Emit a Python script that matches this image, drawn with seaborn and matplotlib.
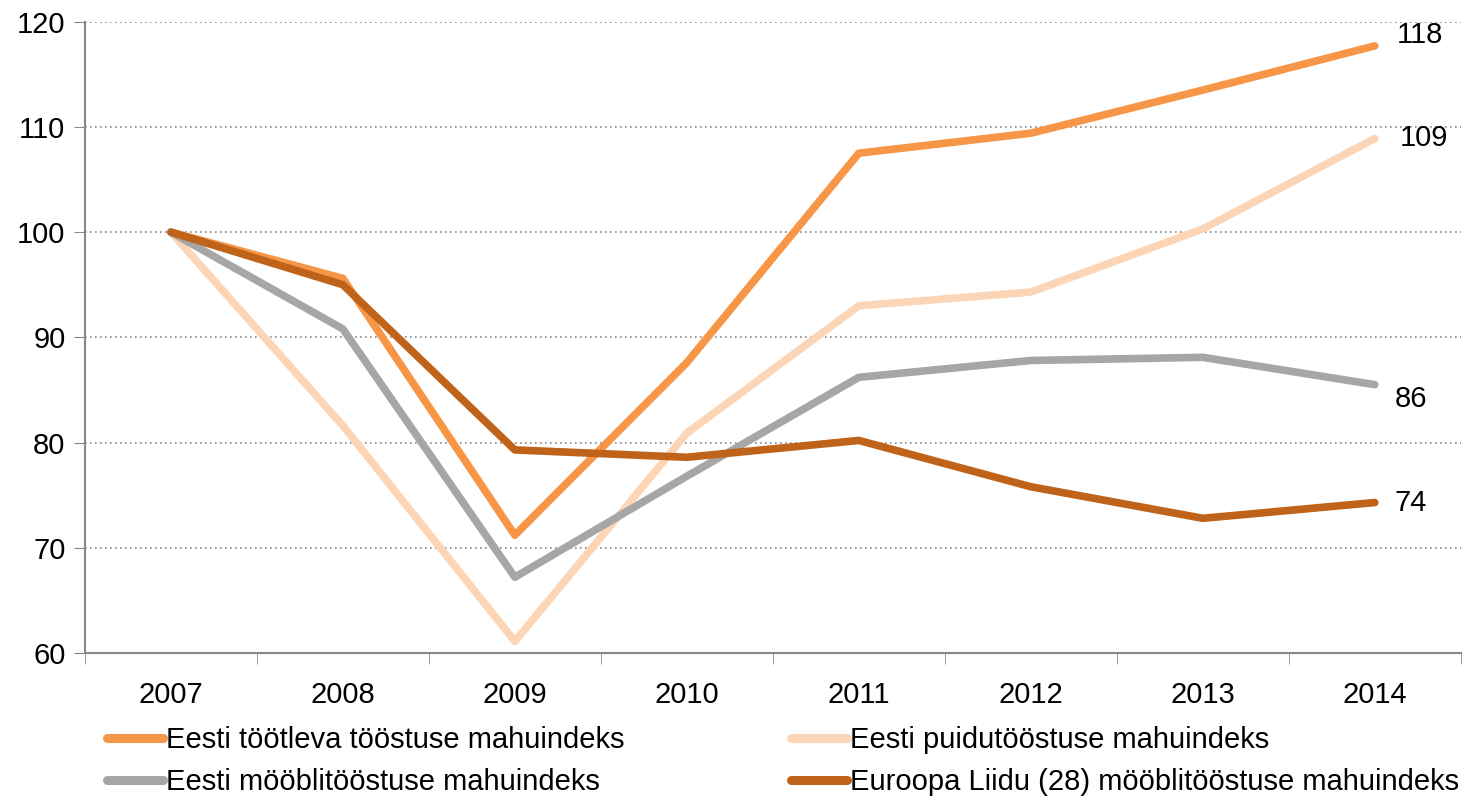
import pandas as pd
import seaborn as sns
import matplotlib.pyplot as plt
from matplotlib.ticker import FixedLocator

years = ["2007", "2008", "2009", "2010", "2011", "2012", "2013", "2014"]
tootlev = [100, 95.6, 71.2, 87.6, 107.5, 109.4, 113.5, 117.7]
puidu = [100, 81.6, 61.1, 80.9, 93.0, 94.3, 100.3, 108.9]
moobli = [100, 90.8, 67.2, 76.8, 86.2, 87.8, 88.1, 85.5]
eu_moobli = [100, 95.0, 79.3, 78.6, 80.2, 75.8, 72.8, 74.3]
end_labels = ["118", "109", "86", "74"]

series_names = [
    "Eesti töötleva tööstuse mahuindeks",
    "Eesti puidutööstuse mahuindeks",
    "Eesti mööblitööstuse mahuindeks",
    "Euroopa Liidu (28) mööblitööstuse mahuindeks",
]
colors = ["#F79646", "#FBD5B5", "#A6A6A6", "#C0631A"]


def main():
    rows = []
    for name, vals in zip(series_names, [tootlev, puidu, moobli, eu_moobli]):
        for i, (yr, v) in enumerate(zip(years, vals)):
            rows.append({"pos": i, "year": yr, "value": v, "series": name})
    df = pd.DataFrame(rows)

    sns.set_style("white")
    plt.rcParams["font.family"] = ["Liberation Sans", "DejaVu Sans"]
    plt.rcParams["text.color"] = "black"

    fig = plt.figure(figsize=(14.63, 7.97), dpi=100)
    ax = fig.add_axes([0.058, 0.1807, 0.9405, 0.7921])

    sns.lineplot(
        data=df, x="pos", y="value", hue="series",
        hue_order=series_names, palette=colors,
        linewidth=5.5, ax=ax, legend=False,
    )
    for line in ax.get_lines():
        line.set_solid_capstyle("round")
        line.set_solid_joinstyle("round")

    ax.set_xlim(-0.5, 7.5)
    ax.set_ylim(60, 120)
    ax.set_yticks(range(60, 121, 10))
    ax.tick_params(axis="y", labelsize=21, length=8, color="#888888",
                   labelcolor="black", direction="out", left=True, pad=6)
    ax.set_xticks(range(len(years)))
    ax.set_xticklabels(years)
    ax.xaxis.set_minor_locator(FixedLocator([i - 0.5 for i in range(len(years) + 1)]))
    ax.tick_params(axis="x", which="major", length=0, labelsize=21, pad=20,
                   labelcolor="black")
    ax.tick_params(axis="x", which="minor", length=8, color="#888888",
                   direction="out", bottom=True)
    ax.set_xlabel("")
    ax.set_ylabel("")

    for y in range(70, 121, 10):
        ax.axhline(y, color="#888888", linestyle=(0, (1, 2)), linewidth=1.2, zorder=0)

    for s in ["top", "right"]:
        ax.spines[s].set_visible(False)
    for s in ["left", "bottom"]:
        ax.spines[s].set_color("#888888")
        ax.spines[s].set_linewidth(1.5)

    offsets = [(16, 8), (18, 0), (14, -10), (14, 0)]
    for vals, lab, off in zip([tootlev, puidu, moobli, eu_moobli], end_labels, offsets):
        ax.annotate(lab, xy=(len(years) - 1, vals[-1]), xytext=off,
                    textcoords="offset points", fontsize=21, va="center", ha="left",
                    annotation_clip=False)

    handles = [plt.Line2D([], [], color=c, linewidth=6.5, solid_capstyle="round")
               for c in colors]
    order = [0, 2, 1, 3]
    ax.legend([handles[i] for i in order], [series_names[i] for i in order],
              ncol=2, loc="upper left", bbox_to_anchor=(0.0075, -0.097),
              frameon=False, fontsize=21, handlelength=1.93, handletextpad=0.1,
              columnspacing=5.7, labelspacing=0.5, borderaxespad=0)

    fig.savefig("out.png", dpi=100)


if __name__ == "__main__":
    main()
